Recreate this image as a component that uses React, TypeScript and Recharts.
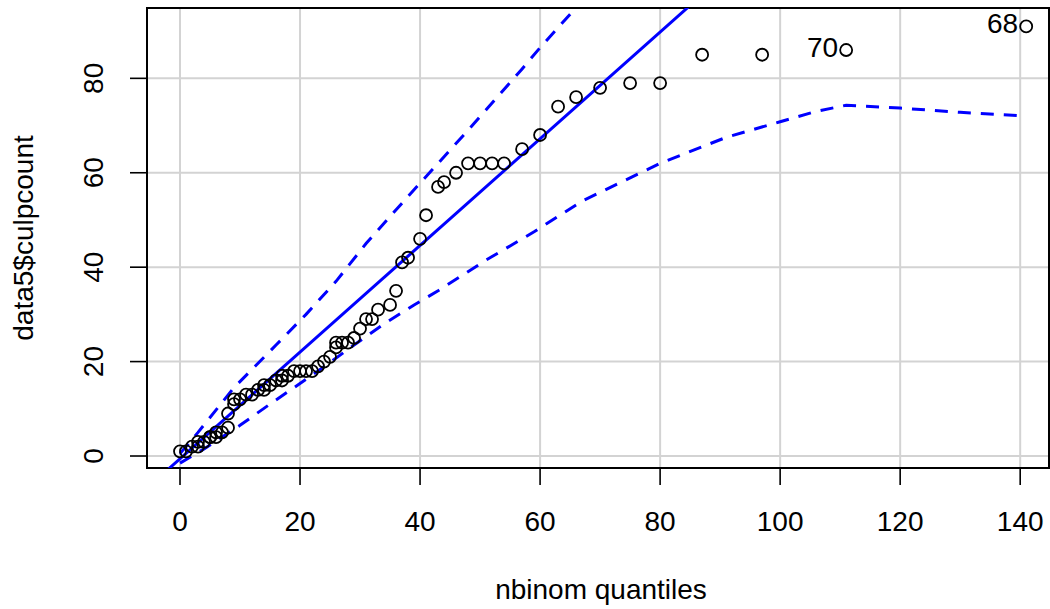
import {
  ComposedChart,
  Scatter,
  Line,
  XAxis,
  YAxis,
  CartesianGrid,
  ReferenceArea,
  Label,
} from "recharts";

// theoretical nbinom quantiles (x) vs sorted culpcount (y)
const quantiles = [
  0, 1, 2, 3, 3, 4, 5, 5, 6, 6, 7, 8, 8, 9, 9, 10, 11, 12, 13, 14, 14, 15, 16, 17, 17, 18,
  19, 20, 21, 22, 23, 24, 25, 26, 26, 27, 28, 29, 30, 31, 32, 33, 35, 36, 37, 38, 40, 41,
  43, 44, 46, 48, 50, 52, 54, 57, 60, 63, 66, 70, 75, 80, 87, 97, 111, 141,
];
const culpcount = [
  1, 1, 2, 2, 3, 3, 4, 4, 4, 5, 5, 6, 9, 11, 12, 12, 13, 13, 14, 14, 15, 15, 16, 16, 17, 17,
  18, 18, 18, 18, 19, 20, 21, 23, 24, 24, 24, 25, 27, 29, 29, 31, 32, 35, 41, 42, 46, 51,
  57, 58, 60, 62, 62, 62, 62, 65, 68, 74, 76, 78, 79, 79, 85, 85, 86, 91,
];
// labelled outliers (observation index), by position in the sorted list
const outlierLabels: Record<number, string> = { 64: "70", 65: "68" };

// reference line, read at both ends
const refLineX = [-5.5, 90];
const refLineY = [-6.8, 101.1];

// confidence envelope
const upperX = [0, 3, 9, 16, 21, 26, 31, 38, 48, 57, 60, 66, 70];
const upperY = [0.5, 5, 14.5, 23.5, 30, 37, 45, 55, 69, 82, 86.5, 95, 100.5];
const lowerX = [0, 4, 10, 15, 23, 29, 34, 39, 43, 51, 59, 67, 80, 91, 100, 106, 111, 120, 130, 141];
const lowerY = [-1.5, 1.5, 6.5, 11, 18, 23.5, 28, 32, 35, 41.5, 47.5, 54, 62, 67.5, 70.8, 73, 74.3, 73.7, 72.8, 72];

const xTicks = [0, 20, 40, 60, 80, 100, 120, 140];
const yTicks = [0, 20, 40, 60, 80];
const X_DOMAIN: [number, number] = [-5.5, 144.8];
const Y_DOMAIN: [number, number] = [-2.54, 94.9];

const points = quantiles.map((x, i) => ({ x, y: culpcount[i], label: outlierLabels[i] }));
const refLine = refLineX.map((x, i) => ({ x, y: refLineY[i] }));
const upper = upperX.map((x, i) => ({ x, y: upperY[i] }));
const lower = lowerX.map((x, i) => ({ x, y: lowerY[i] }));

const FONT = '"Liberation Sans", Arial, Helvetica, sans-serif';
const BLUE = "#0000ff";
const PLOT_BOTTOM = 468;

function XTick(props: any) {
  const { x, payload } = props;
  return (
    <text x={x} y={PLOT_BOTTOM + 63} textAnchor="middle" fontSize={28} fontFamily={FONT} fill="#000">
      {payload.value}
    </text>
  );
}

function YTick(props: any) {
  const { y, payload } = props;
  return (
    <text
      x={103}
      y={y}
      transform={`rotate(-90, 103, ${y})`}
      textAnchor="middle"
      fontSize={28}
      fontFamily={FONT}
      fill="#000"
    >
      {payload.value}
    </text>
  );
}

function Point(props: any) {
  const { cx, cy, payload } = props;
  return (
    <g>
      <circle cx={cx} cy={cy} r={6} fill="none" stroke="#000" strokeWidth={1.8} />
      {payload.label && (
        <text x={cx - 8} y={cy + 7} textAnchor="end" fontSize={28} fontFamily={FONT} fill="#000">
          {payload.label}
        </text>
      )}
    </g>
  );
}

export default function App() {
  return (
    <div style={{ position: "absolute", left: 0, top: 0, background: "#fff" }}>
      <ComposedChart width={1050} height={609} margin={{ top: 8, right: 1, bottom: 0, left: 0 }}>
        <CartesianGrid stroke="#d3d3d3" strokeWidth={2} />
        <XAxis
          dataKey="x"
          type="number"
          domain={X_DOMAIN}
          ticks={xTicks}
          allowDataOverflow
          height={141}
          axisLine={false}
          tickSize={17}
          tickLine={{ stroke: "#000", strokeWidth: 1.6 }}
          tick={<XTick />}
        >
          <Label
            content={() => (
              <text x={601} y={599} textAnchor="middle" fontSize={28} fontFamily={FONT} fill="#000">
                nbinom quantiles
              </text>
            )}
          />
        </XAxis>
        <YAxis
          dataKey="y"
          type="number"
          domain={Y_DOMAIN}
          ticks={yTicks}
          allowDataOverflow
          width={147}
          axisLine={false}
          tickSize={17}
          tickLine={{ stroke: "#000", strokeWidth: 1.6 }}
          tick={<YTick />}
        >
          <Label
            content={() => (
              <text
                x={33}
                y={238}
                transform="rotate(-90, 33, 238)"
                textAnchor="middle"
                fontSize={28}
                fontFamily={FONT}
                fill="#000"
              >
                data5$culpcount
              </text>
            )}
          />
        </YAxis>
        <Line
          data={upper}
          dataKey="y"
          type="linear"
          stroke={BLUE}
          strokeWidth={3}
          strokeDasharray="13 10"
          dot={false}
          activeDot={false}
          isAnimationActive={false}
        />
        <Line
          data={lower}
          dataKey="y"
          type="linear"
          stroke={BLUE}
          strokeWidth={3}
          strokeDasharray="13 10"
          dot={false}
          activeDot={false}
          isAnimationActive={false}
        />
        <Line
          data={refLine}
          dataKey="y"
          type="linear"
          stroke={BLUE}
          strokeWidth={3}
          dot={false}
          activeDot={false}
          isAnimationActive={false}
        />
        <Scatter data={points} dataKey="y" shape={<Point />} isAnimationActive={false} />
        <ReferenceArea
          x1={X_DOMAIN[0]}
          x2={X_DOMAIN[1]}
          y1={Y_DOMAIN[0]}
          y2={Y_DOMAIN[1]}
          fill="none"
          stroke="#000"
          strokeWidth={2}
          ifOverflow="visible"
        />
      </ComposedChart>
    </div>
  );
}
